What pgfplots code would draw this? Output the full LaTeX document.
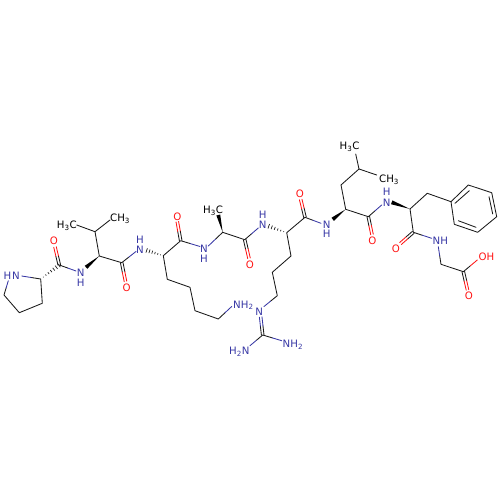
\documentclass[border=0pt]{standalone}
\usepackage{fontspec}
\setmainfont{DejaVu Sans}
\usepackage{pgfplots}
\pgfplotsset{compat=1.18}
\definecolor{nblue}{RGB}{56,56,165}
\definecolor{ored}{RGB}{255,20,20}
\definecolor{bond}{RGB}{25,25,25}
\tikzset{
	atom/.style={font=\fontsize{10.2}{12}\selectfont,inner sep=0pt,anchor=base},
	atomw/.style={atom,anchor=base west},
}
\begin{document}
\begin{tikzpicture}
\path[use as bounding box] (0,0) rectangle (500pt,500pt);
\begin{axis}[
	scale only axis,
	width=500pt,
	height=500pt,
	xmin=0,xmax=500,
	ymin=0,ymax=500,
	y dir=reverse,
	hide axis,
	unbounded coords=jump,
	every axis plot/.append style={line width=0.85pt,line cap=round,line join=round},
]
% carbon skeleton
\addplot[bond] coordinates {
	(31.2,277.5) (40.7,279) (42.3,303.3) (19.3,312.7) (4,295) (6.15,287.85) (nan,nan)
	(59.3,265) (67.65,268) (nan,nan)
	(99.3,256) (95,231.7) (76.7,225) (nan,nan)
	(95,231.7) (110,220) (nan,nan)
	(99.3,256) (121.7,262.7) (128.85,257.1) (nan,nan)
	(190.35,243.6) (180.7,240.7) (163.3,255.7) (167.3,279.3) (190,287.3) (195,310.7) (218.3,319) (225,312.75) (nan,nan)
	(215.5,239.15) (222.7,232.3) (244.7,239.7) (251.5,233.85) (nan,nan)
	(313,220.3) (305,217.3) (286.7,232.7) (291,256) (272.3,272.3) (277.3,295.7) (270.65,301.1) (nan,nan)
	(375,210.85) (368.3,216.7) (345.7,209.3) (341,185) (359,169) (355.7,154) (nan,nan)
	(359,169) (376.7,175) (nan,nan)
	(422.5,235.3) (413.3,232.3) (410,209) (427.3,193.3) (451,201.7) (nan,nan)
	(451,201.7) (468.3,185) (491.7,192.7) (496.7,216.7) (477.7,232.3) (454.3,224.3) (451,201.7) (nan,nan)
	(469.3,190.7) (455,203.3) (nan,nan)
	(489,196.7) (492.7,214) (nan,nan)
	(476,227.3) (458.3,220.7) (nan,nan)
	(439.65,255.5) (441,264.3) (463.3,271.7) (470.3,265.85) (nan,nan)
	(272.2,337.85) (262.7,335) (256.35,340.35)
};
% carbon half of the double bonds
\addplot[bond] coordinates {
	(60.57,264.7) (58.42,255.7) (nan,nan) (58.03,265.3) (55.88,256.3) (nan,nan)
	(122.97,262.44) (124.87,271.84) (nan,nan) (120.43,262.96) (122.33,272.36) (nan,nan)
	(181.98,240.47) (180.28,230.97) (nan,nan) (179.42,240.93) (177.72,231.43) (nan,nan)
	(245.97,239.41) (248.12,248.71) (nan,nan) (243.43,239.99) (245.58,249.29) (nan,nan)
	(306.26,216.99) (304.11,208.09) (nan,nan) (303.74,217.61) (301.59,208.71) (nan,nan)
	(369.57,216.44) (371.42,225.34) (nan,nan) (367.03,216.96) (368.88,225.86) (nan,nan)
	(414.16,233.28) (407.76,238.88) (nan,nan) (412.44,231.32) (406.04,236.92) (nan,nan)
	(464.57,271.41) (466.67,280.56) (nan,nan) (462.03,271.99) (464.13,281.14) (nan,nan)
	(263.99,334.86) (262.99,325.86) (nan,nan) (261.41,335.14) (260.41,326.14)
};
% oxygen half
\addplot[ored] coordinates {
	(58.42,255.7) (56.27,246.7) (nan,nan) (55.88,256.3) (53.73,247.3) (nan,nan)
	(124.87,271.84) (126.77,281.24) (nan,nan) (122.33,272.36) (124.23,281.76) (nan,nan)
	(180.28,230.97) (178.58,221.47) (nan,nan) (177.72,231.43) (176.02,221.93) (nan,nan)
	(248.12,248.71) (250.27,258.01) (nan,nan) (245.58,249.29) (247.73,258.59) (nan,nan)
	(304.11,208.09) (301.96,199.19) (nan,nan) (301.59,208.71) (299.44,199.81) (nan,nan)
	(371.42,225.34) (373.27,234.24) (nan,nan) (368.88,225.86) (370.73,234.76) (nan,nan)
	(407.76,238.88) (401.36,244.48) (nan,nan) (406.04,236.92) (399.64,242.52) (nan,nan)
	(466.67,280.56) (468.77,289.71) (nan,nan) (464.13,281.14) (466.23,290.29) (nan,nan)
	(470.3,265.85) (477.3,260)
};
% nitrogen half
\addplot[nblue] coordinates {
	(21.7,276) (31.2,277.5) (nan,nan)
	(8.3,280.7) (6.15,287.85) (nan,nan)
	(67.65,268) (76,271) (nan,nan)
	(128.85,257.1) (136,251.5) (nan,nan)
	(190.35,243.6) (200,246.5) (nan,nan)
	(208.3,246) (215.5,239.15) (nan,nan)
	(251.5,233.85) (258.3,228) (nan,nan)
	(313,220.3) (321,223.3) (nan,nan)
	(375,210.85) (381.7,205) (nan,nan)
	(422.5,235.3) (431.7,238.3) (nan,nan)
	(438.3,246.7) (439.65,255.5) (nan,nan)
	(225,312.75) (231.7,306.5) (nan,nan)
	(270.65,301.1) (264,306.5) (nan,nan)
	(272.2,337.85) (281.7,340.7) (nan,nan)
	(256.35,340.35) (250,345.7) (nan,nan)
	(262.99,325.86) (261.99,316.86) (nan,nan) (260.41,326.14) (259.41,317.14)
};
% solid wedges
\addplot[fill=black,draw=none] coordinates {(99.3,256) (87.3,268.8) (84.7,265.8)};
\addplot[fill=black,draw=none] coordinates {(222.7,232.3) (220.2,214.5) (216.4,215.5)};
\addplot[fill=black,draw=none] coordinates {(345.7,209.3) (333.9,220.9) (331.5,217.7)};
\addplot[fill=black,draw=none] coordinates {(410,209) (392.4,200.4) (391,204.2)};
% hashed wedges
\addplot[bond,line width=0.7pt,line cap=butt] coordinates {
	(43.1,276.77) (43.5,277.31) (nan,nan) (45.51,274.54) (46.31,275.62) (nan,nan)
	(47.91,272.31) (49.11,273.93) (nan,nan) (50.31,270.08) (51.93,272.24) (nan,nan)
	(52.71,267.86) (54.73,270.54) (nan,nan) (55.11,265.63) (57.53,268.85) (nan,nan)
	(57.52,263.4) (60.34,267.16) (nan,nan)
	(160.65,254.45) (160.41,255.19) (nan,nan) (157.99,253.21) (157.53,254.67) (nan,nan)
	(155.34,251.96) (154.64,254.16) (nan,nan) (152.70,250.72) (151.76,253.64) (nan,nan)
	(150.04,249.47) (148.88,253.13) (nan,nan) (147.39,248.22) (145.99,252.62) (nan,nan)
	(283.84,231.27) (283.58,231.99) (nan,nan) (280.98,229.84) (280.46,231.28) (nan,nan)
	(278.11,228.4) (277.33,230.56) (nan,nan) (275.25,226.96) (274.21,229.86) (nan,nan)
	(272.39,225.53) (271.09,229.15) (nan,nan) (269.53,224.1) (267.97,228.44)
};
% atom labels
\begin{scope}[every node/.append style={text=nblue}]
\node[atom] at (axis cs:16,279) {N};
\node[atom] at (axis cs:7.5,279) {H};
\node[atom] at (axis cs:80.7,276.8) {N};
\node[atom] at (axis cs:80.7,286.2) {H};
\node[atom] at (axis cs:140,253.3) {N};
\node[atom] at (axis cs:140,243.3) {H};
\node[atom] at (axis cs:204,252.1) {N};
\node[atom] at (axis cs:204,262) {H};
\node[atom] at (axis cs:262.7,228.3) {N};
\node[atom] at (axis cs:262.7,218.6) {H};
\node[atom] at (axis cs:326.7,228.1) {N};
\node[atom] at (axis cs:326.7,237.8) {H};
\node[atom] at (axis cs:386.7,206.3) {N};
\node[atom] at (axis cs:386.7,195.7) {H};
\node[atomw] at (axis cs:432.5,244.7) {NH};
\node[atomw] at (axis cs:233,308) {NH\textsubscript{2}};
\node[atom] at (axis cs:259.3,315.7) {N};
\node[atomw] at (axis cs:282.5,347.3) {NH\textsubscript{2}};
\node[atomw] at (axis cs:229,354.7) {H\textsubscript{2}N};
\end{scope}
\begin{scope}[every node/.append style={text=ored}]
\node[atom] at (axis cs:54,244.7) {O};
\node[atom] at (axis cs:126.7,291.3) {O};
\node[atom] at (axis cs:177.3,220.7) {O};
\node[atom] at (axis cs:250,268.3) {O};
\node[atom] at (axis cs:300,197.3) {O};
\node[atom] at (axis cs:372.3,244.7) {O};
\node[atom] at (axis cs:396,252.3) {O};
\node[atom] at (axis cs:469,299.7) {O};
\node[atomw] at (axis cs:478.5,260.7) {OH};
\end{scope}
\node[atomw] at (axis cs:56.7,229) {H\textsubscript{3}C};
\node[atomw] at (axis cs:110,221.3) {CH\textsubscript{3}};
\node[atomw] at (axis cs:203,213.3) {H\textsubscript{3}C};
\node[atomw] at (axis cs:339.5,149.7) {H\textsubscript{3}C};
\node[atomw] at (axis cs:379,182.3) {CH\textsubscript{3}};
\end{axis}
\end{tikzpicture}
\end{document}
